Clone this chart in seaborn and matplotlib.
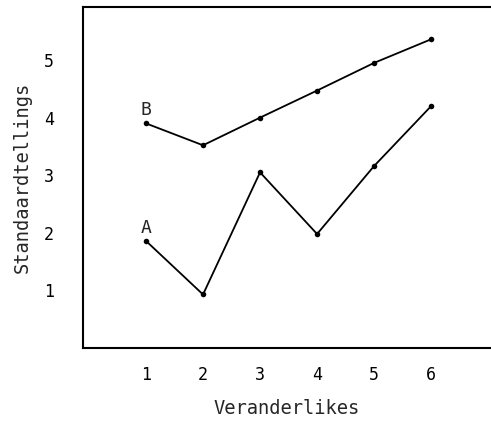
import pandas as pd
import matplotlib
matplotlib.use("Agg")
import matplotlib.pyplot as plt
import seaborn as sns

# data
veranderlikes = [1, 2, 3, 4, 5, 6]
reeks_a = [1.86, 0.93, 3.05, 1.98, 3.16, 4.20]
reeks_b = [3.90, 3.52, 4.00, 4.47, 4.95, 5.36]
reeks_name = ["A", "B"]

df = pd.DataFrame({
    "Veranderlikes": veranderlikes * 2,
    "Standaardtellings": reeks_a + reeks_b,
    "reeks": [reeks_name[0]] * 6 + [reeks_name[1]] * 6,
})

sns.set_style("white")
plt.rcParams["font.family"] = ["DejaVu Sans Mono", "DejaVu Sans"]

fig = plt.figure(figsize=(4.91, 4.25), dpi=100)
ax = fig.add_axes([0.169, 0.181, 0.831, 0.8025])

sns.lineplot(data=df, x="Veranderlikes", y="Standaardtellings", hue="reeks",
             palette=["black", "black"], marker="o", markersize=4,
             markeredgewidth=0, linewidth=1.3, legend=False, ax=ax)

# series labels above the first point
for name, vals in zip(reeks_name, [reeks_a, reeks_b]):
    ax.annotate(name, (veranderlikes[0], vals[0]), xytext=(0, 3),
                textcoords="offset points", ha="center", va="bottom",
                fontsize=13)

ax.set_xlim(-0.105, 7.05)
ax.set_ylim(0, 5.92)
ax.set_xticks(veranderlikes)
ax.set_yticks([1, 2, 3, 4, 5])

ax.spines["right"].set_visible(False)
for s in ["left", "top", "bottom"]:
    ax.spines[s].set_linewidth(1.5)
    ax.spines[s].set_color("black")

ax.tick_params(axis="both", direction="inout", length=6, width=1.3,
               labelsize=12, colors="black")
ax.tick_params(axis="y", pad=18)
ax.tick_params(axis="x", pad=10)

ax.set_xlabel("Veranderlikes", fontsize=13.5, labelpad=11)
ax.set_ylabel("Standaardtellings", fontsize=13.5, labelpad=9)

fig.savefig("out.png", dpi=100)
